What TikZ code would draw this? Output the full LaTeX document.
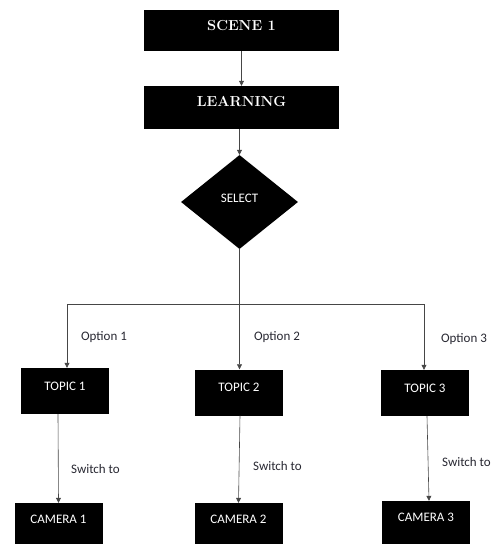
\documentclass[tikz,border=0pt]{standalone}
\usepackage{fontspec}
\newfontfamily\calib{Carlito}
\usetikzlibrary{shapes.geometric,arrows.meta}
\definecolor{linegray}{RGB}{70,70,70}
\definecolor{optgray}{RGB}{40,40,50}

\begin{document}
\begin{tikzpicture}[x=1pt,y=1pt,
  headbox/.style={rectangle,fill=black,text=white,font=\bfseries\fontsize{14.5}{16}\selectfont,minimum width=195pt,inner sep=0pt},
  topicbox/.style={rectangle,fill=black,text=white,font=\calib\fontsize{13}{15}\selectfont,minimum width=88pt,inner sep=0pt,text height=22pt,text depth=24pt},
  camerabox/.style={topicbox,text height=20pt,text depth=26pt},
  arr/.style={-{Triangle[length=5pt,width=5pt]},draw=linegray,line width=0.6pt},
  lbl/.style={text=optgray,font=\calib\fontsize{13}{15}\selectfont}]
\useasboundingbox (0,0) rectangle (496,-544);
\clip (0,0) rectangle (496,-544);

% The two header boxes
\node[headbox,text height=20pt,text depth=21pt] (scene) at (241.5,-30.5) {SCENE 1};
\node[headbox,text height=20.7pt,text depth=22.3pt] (learn) at (241.5,-107.5) {LEARNING};
\draw[arr] (scene) -- (learn);

% The decision
\node[diamond,fill=black,text=white,font=\calib\fontsize{13}{15}\selectfont,minimum width=117pt,minimum height=94pt,inner sep=0pt,text height=8pt,text depth=8pt] (sel) at (239.5,-202) {SELECT};
\draw[arr] (learn.south -| sel.north) -- (sel.north);

% Three topics hang from one bar
\node[topicbox] (t1) at (65,-391) {TOPIC 1};
\node[topicbox] (t2) at (239,-392.5) {TOPIC 2};
\node[topicbox] (t3) at (425,-393) {TOPIC 3};
\coordinate (barL) at (67,-304);
\coordinate (barR) at (424,-304);
\draw[draw=linegray,line width=0.6pt] (barL) -- (barR);
\draw[arr] (sel.south) -- (sel.south |- t2.north);
\draw[arr] (barL) -- (barL |- t1.north);
\draw[arr] (barR) -- (barR |- t3.north);
\node[lbl] (opt1) at (104,-337) {Option 1};
\node[lbl] (opt2) at (277,-337) {Option 2};
\node[lbl] (opt3) at (464,-339) {Option 3};

% Cameras below, cut by the page
\node[camerabox] (c1) at (58.5,-526) {CAMERA 1};
\node[camerabox] (c2) at (238.5,-526) {CAMERA 2};
\node[camerabox] (c3) at (426,-524) {CAMERA 3};
\draw[arr] ([xshift=-7pt]t1.south) -- (c1.north);
\draw[arr] ([xshift=1pt]t2.south) -- (c2.north);
\draw[arr] ([xshift=2pt]t3.south) -- ([xshift=3pt]c3.north);
\node[lbl] (sw1) at (95.5,-469) {Switch to};
\node[lbl] (sw2) at (277.5,-466) {Switch to};
\node[lbl] (sw3) at (466.5,-462) {Switch to};

\end{tikzpicture}
\end{document}
